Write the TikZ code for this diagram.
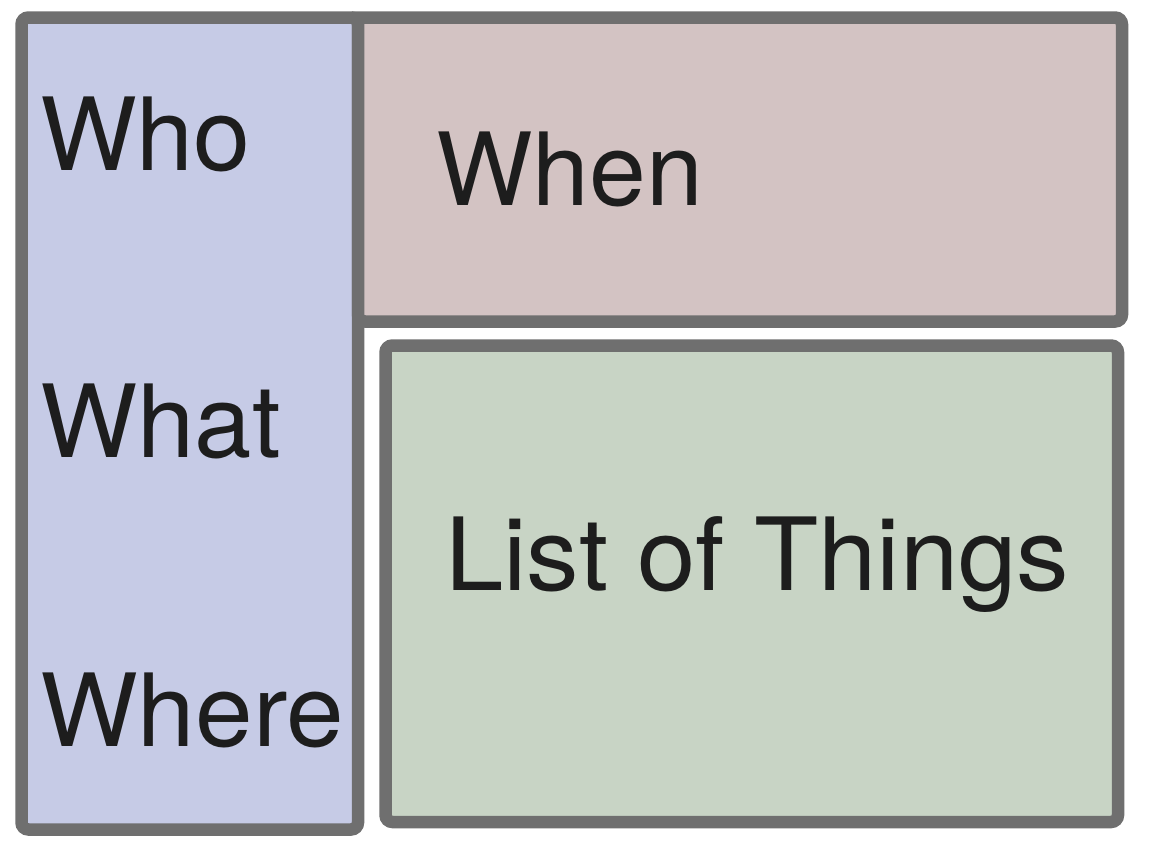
\documentclass[tikz,border=0pt]{standalone}
\usepackage{fontspec}
\setmainfont{TeX Gyre Heros}
\definecolor{edgegray}{HTML}{6F6F6F}
\definecolor{bluefill}{HTML}{C6CBE6}
\definecolor{pinkfill}{HTML}{D3C3C3}
\definecolor{greenfill}{HTML}{C8D4C5}
\definecolor{inkcol}{HTML}{1D1D1D}
\tikzset{
  panel/.style={draw=edgegray, line width=12.5pt},
  label/.style={inner sep=0pt, anchor=base west, text=inkcol, font=\fontsize{101}{120}\selectfont}
}
\begin{document}
\begin{tikzpicture}[x=1pt,y=-1pt]
\useasboundingbox (0,0) rectangle (1152,844);
% left column
\draw[panel, fill=bluefill] (358,400) [rounded corners=7pt] -- (358,829.5) -- (21.5,829.5) -- (21.5,17.5) -- (358,17.5) [sharp corners] -- cycle;
% top-right box
\draw[panel, fill=pinkfill] (700,17.5) [rounded corners=7pt] -- (1122,17.5) -- (1122,321.5) -- (358,321.5) [sharp corners] -- (358,17.5) -- cycle;
% bottom-right box
\draw[panel, fill=greenfill, rounded corners=7pt] (385.5,345.5) rectangle (1118,822);
% texts
\node[label, xscale=1.015] (who) at (40,170) {Who};
\node[label, xscale=1.02] (what) at (40,457.5) {What};
\node[label, xscale=1.025] (where) at (40,746.5) {Where};
\node[label, xscale=1.012] (when) at (436,205.7) {When};
\node[label, xscale=1.04] (list) at (445,590) {List of Things};
\end{tikzpicture}
\end{document}
